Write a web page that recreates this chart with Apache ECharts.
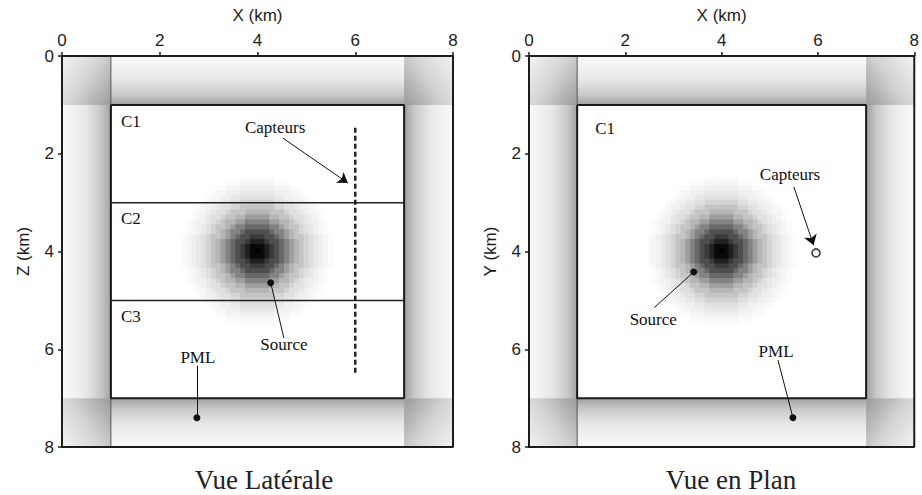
<!DOCTYPE html>
<html>
<head>
<meta charset="utf-8">
<title>Vue Latérale / Vue en Plan</title>
<script src="https://cdn.jsdelivr.net/npm/echarts@6/dist/echarts.min.js"></script>
<style>
  html, body { margin: 0; padding: 0; background: #fff; }
  #chart { width: 922px; height: 495px; }
</style>
</head>
<body>
<div id="chart"></div>
<script>
// Axis ticks (km), shared by both views
const tickValues = [0, 2, 4, 6, 8];

// Absorbing (PML) zones: [x0, z0, x1, z1] in km
const pmlZones = [
  [0, 0, 1, 1], [1, 0, 7, 1], [7, 0, 8, 1],
  [0, 1, 1, 7], [7, 1, 8, 7],
  [0, 7, 1, 8], [1, 7, 7, 8], [7, 7, 8, 8]
];

// Physical domain outline and layer interfaces (km)
const innerBox = [[1, 1], [7, 1], [7, 7], [1, 7], [1, 1]];
const layerDepths = [3, 5];
const pmlSeam = [[1, 0], [1, 8]];

// Source: centre (km), cell size (km) and radial darkness profile (one value per cell ring)
const sourceCenter = [4, 4];
const cellSize = 0.1;
const sourceProfile = [1.00, 0.96, 0.87, 0.77, 0.69, 0.59, 0.49, 0.38, 0.29, 0.23, 0.17, 0.12, 0.09, 0.06, 0.035, 0.015];

// Receivers
const receiverLine = [[6, 1.47], [6, 6.48]];
const receiverPoint = [5.96, 4.03];

// Side view annotations
const lateralNotes = ['C1', 'C2', 'C3', 'Capteurs', 'Source', 'PML'];
const lateralNoteX = [1.41, 1.41, 1.41, 4.36, 4.54, 2.78];
const lateralNoteZ = [1.35, 3.33, 5.34, 1.47, 5.91, 6.16];
const lateralArrow = [[4.52, 1.68], [5.85, 2.60]];
const lateralLeaders = [
  [[4.27, 4.64], [4.54, 5.77]],
  [[2.76, 7.40], [2.76, 6.34]]
];

// Map view annotations
const planNotes = ['C1', 'Capteurs', 'Source', 'PML'];
const planNoteX = [1.58, 5.42, 2.58, 5.13];
const planNoteY = [1.49, 2.43, 5.40, 6.05];
const planArrow = [[5.50, 2.68], [5.91, 3.87]];
const planLeaders = [
  [[3.42, 4.42], [2.60, 5.15]],
  [[5.48, 7.40], [5.17, 6.22]]
];

// Panel titles and axis names
const panelTitles = ['Vue Latérale', 'Vue en Plan'];
const xNames = ['X (km)', 'X (km)'];
const yNames = ['Z (km)', 'Y (km)'];

// ---------------------------------------------------------------

const SANS = '"Liberation Sans", Arial, sans-serif';
const SERIF = '"Liberation Serif", "Times New Roman", serif';
const INK = '#1c1c1c';
const BAND_STOPS = [
  { offset: 0, color: '#fbfbfb' },
  { offset: 0.5, color: '#e6e6e6' },
  { offset: 0.8, color: '#c6c6c6' },
  { offset: 1, color: '#9f9f9f' }
];
const CORNER_STOPS = [
  { offset: 0, color: '#efefef' },
  { offset: 0.5, color: '#d2d2d2' },
  { offset: 1, color: '#a0a0a0' }
];
const dMin = tickValues[0];
const dMax = tickValues[tickValues.length - 1];

// source cells built from the ring profile
const sourceCells = [];
const R = sourceProfile.length - 1;
for (let i = -R; i <= R; i++) {
  for (let j = -R; j <= R; j++) {
    const ring = Math.round(Math.sqrt(i * i + j * j));
    if (ring <= R) {
      sourceCells.push([sourceCenter[0] + i * cellSize, sourceCenter[1] + j * cellSize, sourceProfile[ring]]);
    }
  }
}

function pmlSeries(idx) {
  return {
    type: 'custom', xAxisIndex: idx, yAxisIndex: idx, z: 1, silent: true,
    data: pmlZones,
    renderItem: function (params, api) {
      const x0 = api.value(0), z0 = api.value(1), x1 = api.value(2), z1 = api.value(3);
      const a = api.coord([x0, z0]);
      const b = api.coord([x1, z1]);
      const dx = x0 === dMin ? 1 : (x1 === dMax ? -1 : 0);
      const dz = z0 === dMin ? 1 : (z1 === dMax ? -1 : 0);
      let fill;
      if (dx && dz) {
        // corner: darkest at the inner corner
        const sx = dx > 0 ? 0 : 1, sz = dz > 0 ? 0.15 : 0.85;
        fill = new echarts.graphic.LinearGradient(sx, sz, 1 - sx, 1 - sz, CORNER_STOPS);
      } else if (dx) {
        fill = new echarts.graphic.LinearGradient(dx > 0 ? 0 : 1, 0, dx > 0 ? 1 : 0, 0, BAND_STOPS);
      } else {
        fill = new echarts.graphic.LinearGradient(0, dz > 0 ? 0 : 1, 0, dz > 0 ? 1 : 0, BAND_STOPS);
      }
      return {
        type: 'rect',
        shape: { x: Math.min(a[0], b[0]), y: Math.min(a[1], b[1]), width: Math.abs(b[0] - a[0]) + 0.5, height: Math.abs(b[1] - a[1]) + 0.5 },
        style: { fill: fill }
      };
    }
  };
}

function sourceSeries(idx) {
  return {
    type: 'custom', xAxisIndex: idx, yAxisIndex: idx, z: 2, silent: true,
    data: sourceCells,
    renderItem: function (params, api) {
      const h = cellSize / 2;
      const a = api.coord([api.value(0) - h, api.value(1) - h]);
      const b = api.coord([api.value(0) + h, api.value(1) + h]);
      const g = Math.round(255 * (1 - api.value(2)));
      return {
        type: 'rect',
        shape: { x: Math.min(a[0], b[0]) - 0.3, y: Math.min(a[1], b[1]) - 0.3, width: Math.abs(b[0] - a[0]) + 0.6, height: Math.abs(b[1] - a[1]) + 0.6 },
        style: { fill: 'rgb(' + g + ',' + g + ',' + g + ')' }
      };
    }
  };
}

function lineSeries(idx, data, width, color, z, extra) {
  return Object.assign({
    type: 'line', xAxisIndex: idx, yAxisIndex: idx, z: z, silent: true,
    data: data, symbol: 'none', clip: false, animation: false,
    lineStyle: { color: color, width: width }
  }, extra || {});
}

function noteSeries(idx, texts, xs, ys) {
  return {
    type: 'custom', xAxisIndex: idx, yAxisIndex: idx, z: 6, silent: true,
    data: texts.map(function (t, i) { return [xs[i], ys[i]]; }),
    renderItem: function (params, api) {
      const p = api.coord([api.value(0), api.value(1)]);
      return {
        type: 'text', x: p[0], y: p[1],
        style: { text: texts[params.dataIndex], fill: '#111', font: '17px ' + SERIF, align: 'center', verticalAlign: 'middle' }
      };
    }
  };
}

function arrowSeries(idx, seg) {
  return {
    type: 'lines', coordinateSystem: 'cartesian2d', xAxisIndex: idx, yAxisIndex: idx, z: 5, silent: true,
    symbol: ['none', 'arrow'], symbolSize: [0, 10],
    lineStyle: { color: '#111', width: 1, opacity: 1 },
    data: [{ coords: seg }]
  };
}

function leaderSeries(idx, segs) {
  return {
    type: 'lines', coordinateSystem: 'cartesian2d', xAxisIndex: idx, yAxisIndex: idx, z: 5, silent: true,
    symbol: ['circle', 'none'], symbolSize: [7, 0],
    lineStyle: { color: '#111', width: 1, opacity: 1 },
    data: segs.map(function (s) { return { coords: s }; })
  };
}

function layerSegments(depths) {
  const out = [];
  depths.forEach(function (d, i) {
    if (i) out.push(null);
    out.push([innerBox[0][0], d], [innerBox[1][0], d]);
  });
  return out;
}

const frame = [[dMin, dMin], [dMax, dMin], [dMax, dMax], [dMin, dMax], [dMin, dMin]];

function xAxisFor(i) {
  return {
    type: 'value', gridIndex: i, position: 'top',
    min: dMin, max: dMax, interval: tickValues[1] - tickValues[0],
    name: xNames[i], nameLocation: 'middle', nameGap: 32,
    nameTextStyle: { fontFamily: SANS, fontSize: 17, color: INK },
    axisLine: { show: true, lineStyle: { color: INK, width: 2 } },
    axisTick: { show: true, length: 4, lineStyle: { color: INK, width: 1.5 } },
    axisLabel: { margin: 7, fontFamily: SANS, fontSize: 17, color: INK },
    splitLine: { show: false }
  };
}
function yAxisFor(i) {
  return {
    type: 'value', gridIndex: i, inverse: true,
    min: dMin, max: dMax, interval: tickValues[1] - tickValues[0],
    name: yNames[i], nameLocation: 'middle', nameGap: 30,
    nameTextStyle: { fontFamily: SANS, fontSize: 17, color: INK },
    axisLine: { show: true, lineStyle: { color: INK, width: 2 } },
    axisTick: { show: true, length: 4, lineStyle: { color: INK, width: 1.5 } },
    axisLabel: { margin: 8, fontFamily: SANS, fontSize: 17, color: INK },
    splitLine: { show: false }
  };
}

const chart = echarts.init(document.getElementById('chart'), null, { renderer: 'svg' });
chart.setOption({
  animation: false,
  backgroundColor: '#fff',
  title: [
    { text: panelTitles[0], left: 259, top: 461, textAlign: 'center',
      textStyle: { fontFamily: SERIF, fontSize: 27, fontWeight: 'normal', color: '#222' } },
    { text: panelTitles[1], left: 726, top: 461, textAlign: 'center',
      textStyle: { fontFamily: SERIF, fontSize: 27, fontWeight: 'normal', color: '#222' } }
  ],
  grid: [
    { left: 62, top: 56, width: 391, height: 391 },
    { left: 529, top: 56, width: 391, height: 391 }
  ],
  xAxis: [xAxisFor(0), xAxisFor(1)],
  yAxis: [yAxisFor(0), yAxisFor(1)],
  series: [
    // side view
    pmlSeries(0),
    sourceSeries(0),
    lineSeries(0, pmlSeam, 1, '#555', 3),
    lineSeries(0, layerSegments(layerDepths), 1.5, '#222', 3, { connectNulls: false }),
    lineSeries(0, innerBox, 2, '#1a1a1a', 4),
    lineSeries(0, receiverLine, 2.5, '#222', 4, { lineStyle: { color: '#222', width: 2.5, type: [5, 3] } }),
    arrowSeries(0, lateralArrow),
    leaderSeries(0, lateralLeaders),
    noteSeries(0, lateralNotes, lateralNoteX, lateralNoteZ),
    lineSeries(0, frame, 2, INK, 7),
    // map view
    pmlSeries(1),
    sourceSeries(1),
    lineSeries(1, pmlSeam, 1, '#555', 3),
    lineSeries(1, innerBox, 2, '#1a1a1a', 4),
    arrowSeries(1, planArrow),
    leaderSeries(1, planLeaders),
    {
      type: 'scatter', xAxisIndex: 1, yAxisIndex: 1, z: 5, silent: true,
      data: [receiverPoint], symbol: 'circle', symbolSize: 8,
      itemStyle: { color: '#fff', borderColor: '#111', borderWidth: 1.6 }
    },
    noteSeries(1, planNotes, planNoteX, planNoteY),
    lineSeries(1, frame, 2, INK, 7)
  ]
});
</script>
</body>
</html>
